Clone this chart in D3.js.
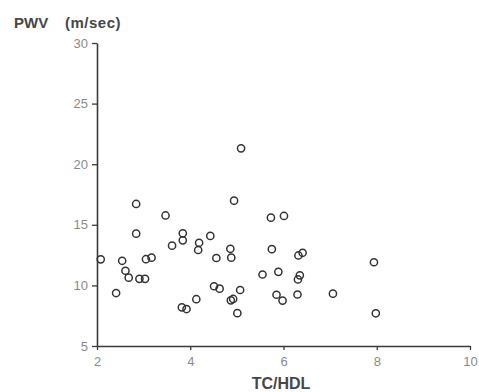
<!DOCTYPE html>
<html>
<head>
<meta charset="utf-8">
<script src="https://cdn.jsdelivr.net/npm/d3@7"></script>
<style>
  body { margin: 0; background: #fff; }
  svg { display: block; }
  .tick text { font-family: "Liberation Sans", Arial, sans-serif; font-size: 13px; fill: #8a8a8a; }
  .title { font-family: "Liberation Sans", Arial, sans-serif; font-weight: bold; fill: #474747; }
</style>
</head>
<body>
<div id="chart"></div>
<script>
// TC/HDL ratio (x) and pulse wave velocity in m/sec (y)
var tcHdl = [2.08, 2.84, 2.84, 2.41, 2.54, 2.61, 2.68, 2.91, 3.03, 3.05, 3.17, 3.47, 3.61, 3.84, 3.84,
             3.82, 3.92, 4.13, 4.19, 4.17, 4.43, 4.56, 4.51, 4.63, 4.86, 4.88, 4.94, 4.87, 4.92, 5.07,
             5.01, 5.55, 5.73, 5.75, 5.09, 6.01, 5.89, 6.32, 6.41, 6.31, 6.35, 5.85, 5.98, 6.30, 7.06,
             7.94, 7.98];
var pwv   = [12.15, 16.72, 14.27, 9.37, 12.03, 11.21, 10.64, 10.54, 10.54, 12.16, 12.29, 15.77, 13.28, 14.30, 13.72,
             8.19, 8.05, 8.86, 13.52, 12.92, 14.08, 12.26, 9.93, 9.73, 13.02, 12.29, 16.99, 8.77, 8.88, 9.62,
             7.71, 10.90, 15.59, 12.99, 21.31, 15.73, 11.12, 12.47, 12.69, 10.49, 10.83, 9.23, 8.75, 9.25, 9.32,
             11.91, 7.70];
var xTicks = [2, 4, 6, 8, 10];
var yTicks = [5, 10, 15, 20, 25, 30];

var width = 479, height = 392;
var margin = { top: 43, right: 9, bottom: 46, left: 97 };

var svg = d3.select("#chart")
  .append("svg")
  .attr("width", width)
  .attr("height", height);

var x = d3.scaleLinear().domain([2, 10]).range([margin.left, width - margin.right]);
var y = d3.scaleLinear().domain([5, 30]).range([height - margin.bottom, margin.top]);

svg.append("g")
  .attr("transform", "translate(0," + (height - margin.bottom) + ")")
  .call(d3.axisBottom(x).tickValues(xTicks).tickSize(4).tickSizeOuter(0).tickPadding(7));

svg.append("g")
  .attr("transform", "translate(" + margin.left + ",0)")
  .call(d3.axisLeft(y).tickValues(yTicks).tickSize(5).tickSizeOuter(0).tickPadding(4));

svg.selectAll(".domain").attr("stroke", "#3a3a3a").attr("stroke-width", 1.6);
svg.selectAll(".tick line").attr("stroke", "#3a3a3a").attr("stroke-width", 1.3);

svg.selectAll(".dot")
  .data(tcHdl)
  .enter().append("circle")
  .attr("class", "dot")
  .attr("cx", function(d) { return x(d); })
  .attr("cy", function(d, i) { return y(pwv[i]); })
  .attr("r", 3.6)
  .attr("fill", "none")
  .attr("stroke", "#333")
  .attr("stroke-width", 1.5);

svg.append("text")
  .attr("class", "title")
  .attr("x", 14)
  .attr("y", 28)
  .style("font-size", "15px")
  .text("PWV");

svg.append("text")
  .attr("class", "title")
  .attr("x", 65)
  .attr("y", 28)
  .style("font-size", "15px")
  .style("letter-spacing", "0.5px")
  .text("(m/sec)");

svg.append("text")
  .attr("class", "title")
  .attr("x", 281)
  .attr("y", 389)
  .attr("text-anchor", "middle")
  .style("font-size", "16px")
  .text("TC/HDL");
</script>
</body>
</html>
